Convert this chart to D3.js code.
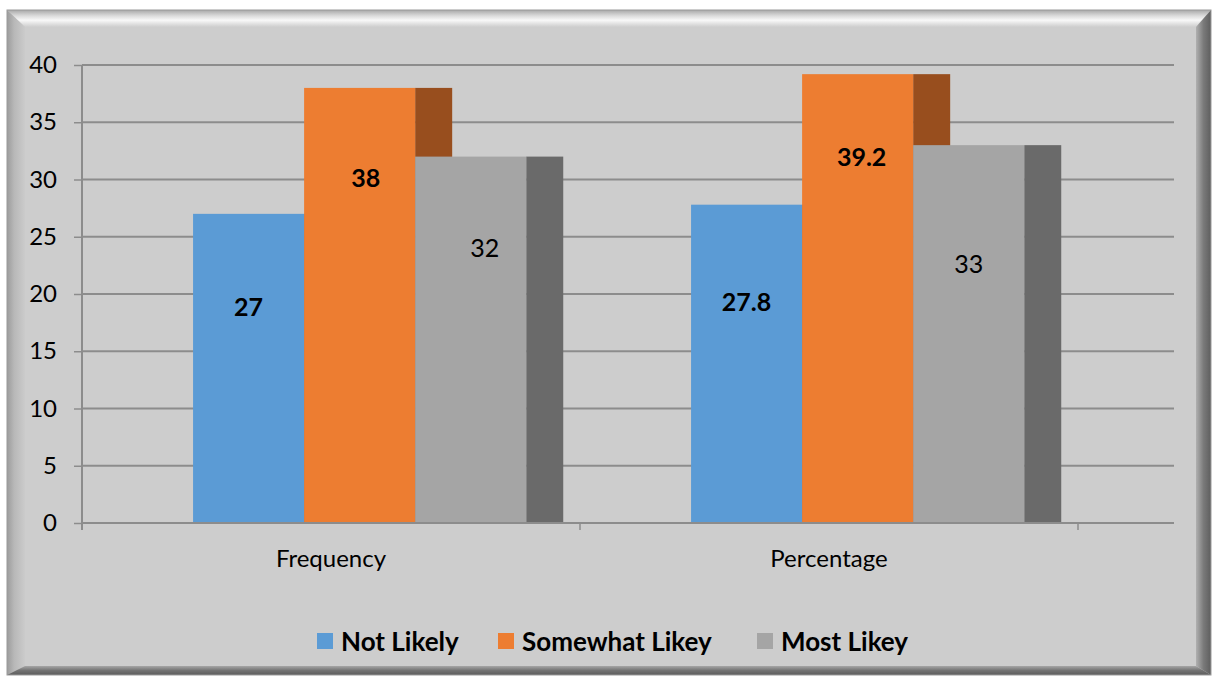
<!DOCTYPE html>
<html>
<head>
<meta charset="utf-8">
<script src="https://cdn.jsdelivr.net/npm/d3@7"></script>
<style>
  html, body { margin: 0; padding: 0; background: #ffffff; }
  svg { display: block; }
  text { font-family: Lato, "Open Sans", sans-serif; fill: #000; }
</style>
</head>
<body>
<svg id="chart" width="1216" height="677"></svg>
<script>
// Chart data
const categories = ["Frequency", "Percentage"];
const seriesNames = ["Not Likely", "Somewhat Likey", "Most Likey"];
const notLikely = [27, 27.8];
const somewhatLikely = [38, 39.2];
const mostLikely = [32, 33];
const yTicks = [0, 5, 10, 15, 20, 25, 30, 35, 40];

const seriesValues = [notLikely, somewhatLikely, mostLikely];
const frontColors = ["#5b9bd5", "#ed7d31", "#a5a5a5"];
const sideColors = ["#3f76a8", "#984e1e", "#6a6a6a"];
const labelBold = [true, true, false];
// label nudges in px relative to the top-centre of each bar face
const labelNudge = [
  [[0, 93], [0, 98]],
  [[6, 90], [4, 83]],
  [[14, 92], [0, 119]]
];

const svg = d3.select("#chart");
const defs = svg.append("defs");

// ---- bevelled frame ----
const fx0 = 7, fy0 = 10, fx1 = 1211, fy1 = 675;
const bl = 18, bt = 17, br = 15, bb = 9;

function grad(id, x1, y1, x2, y2, stops) {
  const g = defs.append("linearGradient").attr("id", id)
    .attr("x1", x1).attr("y1", y1).attr("x2", x2).attr("y2", y2);
  stops.forEach(s => g.append("stop").attr("offset", s[0]).attr("stop-color", s[1]));
}
grad("gTop", 0, 0, 0, 1, [[0, "#a8a8a8"], [0.35, "#dcdcdc"], [0.6, "#f8f8f8"], [1, "#cdcdcd"]]);
grad("gLeft", 0, 0, 1, 0, [[0, "#9c9c9c"], [0.4, "#b8b8b8"], [1, "#cbcbcb"]]);
grad("gRight", 0, 0, 1, 0, [[0, "#b0b0b0"], [0.5, "#7a7a7a"], [1, "#5e5e5e"]]);
grad("gBottom", 0, 0, 0, 1, [[0, "#a6a6a6"], [0.5, "#737373"], [1, "#5c5c5c"]]);

svg.append("rect").attr("x", fx0).attr("y", fy0)
  .attr("width", fx1 - fx0).attr("height", fy1 - fy0).attr("fill", "#cdcdcd");

const ix0 = fx0 + bl, iy0 = fy0 + bt, ix1 = fx1 - br, iy1 = fy1 - bb;
const poly = (pts, fill) => svg.append("polygon")
  .attr("points", pts.map(p => p.join(",")).join(" ")).attr("fill", fill);
poly([[fx0, fy0], [fx1, fy0], [ix1, iy0], [ix0, iy0]], "url(#gTop)");
poly([[fx0, fy0], [ix0, iy0], [ix0, iy1], [fx0, fy1]], "url(#gLeft)");
poly([[fx1, fy0], [fx1, fy1], [ix1, iy1], [ix1, iy0]], "url(#gRight)");
poly([[fx0, fy1], [ix0, iy1], [ix1, iy1], [fx1, fy1]], "url(#gBottom)");
svg.append("rect").attr("x", fx0).attr("y", fy0)
  .attr("width", fx1 - fx0).attr("height", fy1 - fy0)
  .attr("fill", "none").attr("stroke", "#9a9a9a").attr("stroke-width", 1);

// ---- scales ----
const plotLeft = 82, plotRight = 1174, axisRight = 1078;
const y = d3.scaleLinear().domain([0, 40]).range([523, 65]);
const x0 = d3.scaleBand().domain(categories).range([plotLeft, axisRight]).padding(0);
const bw = x0.bandwidth();
const x1 = d3.scaleBand().domain(seriesNames).range([bw * 0.223, bw * 0.892]).padding(0);
const depth = x1.bandwidth() / 3;

const gridColor = "#8c8c8c";

// gridlines
svg.append("g").selectAll("line").data(yTicks.filter(t => t > 0)).join("line")
  .attr("x1", plotLeft).attr("x2", plotRight)
  .attr("y1", d => y(d)).attr("y2", d => y(d))
  .attr("stroke", gridColor).attr("stroke-width", 2);

// y axis
const yAxis = svg.append("g").attr("transform", `translate(${plotLeft},0)`)
  .call(d3.axisLeft(y).tickValues(yTicks).tickSize(8).tickPadding(17));
yAxis.select(".domain").remove();
yAxis.selectAll(".tick line").attr("stroke", gridColor).attr("stroke-width", 1.5);
yAxis.selectAll(".tick text").style("font-size", "24px").style("font-family", "Lato, sans-serif")
  .attr("fill", "#000");
svg.append("line").attr("x1", plotLeft).attr("x2", plotLeft)
  .attr("y1", y(40)).attr("y2", y(0) + 7)
  .attr("stroke", gridColor).attr("stroke-width", 2);

// bars (side face first, then front, series in order so later fronts overlap earlier sides)
const barsG = svg.append("g");
seriesNames.forEach((s, si) => {
  categories.forEach((c, ci) => {
    const v = seriesValues[si][ci];
    const bx = x0(c) + x1(s);
    const w = x1.bandwidth();
    barsG.append("rect")
      .attr("x", bx + w).attr("y", y(v))
      .attr("width", depth).attr("height", y(0) - y(v))
      .attr("fill", sideColors[si]);
    barsG.append("rect")
      .attr("x", bx).attr("y", y(v))
      .attr("width", w).attr("height", y(0) - y(v))
      .attr("fill", frontColors[si]);
  });
});

// x axis line + ticks
svg.append("line").attr("x1", plotLeft).attr("x2", plotRight)
  .attr("y1", y(0)).attr("y2", y(0))
  .attr("stroke", gridColor).attr("stroke-width", 2);
const bounds = categories.map(c => x0(c)).concat([axisRight]);
svg.append("g").selectAll("line").data(bounds).join("line")
  .attr("x1", d => d).attr("x2", d => d)
  .attr("y1", y(0)).attr("y2", y(0) + 7)
  .attr("stroke", gridColor).attr("stroke-width", 1.5);

// category labels
svg.append("g").selectAll("text").data(categories).join("text")
  .attr("x", d => x0(d) + bw * 0.5)
  .attr("y", 567)
  .attr("text-anchor", "middle")
  .style("font-size", "24px")
  .text(d => d);

// value labels
const labG = svg.append("g");
seriesNames.forEach((s, si) => {
  categories.forEach((c, ci) => {
    const v = seriesValues[si][ci];
    const cx = x0(c) + x1(s) + x1.bandwidth() / 2;
    const nd = labelNudge[si][ci];
    labG.append("text")
      .attr("x", cx + nd[0])
      .attr("y", y(v) + nd[1])
      .attr("dy", "0.35em")
      .attr("text-anchor", "middle")
      .style("font-size", "25px")
      .style("font-weight", labelBold[si] ? "700" : "400")
      .text(v);
  });
});

// legend
const legendItems = [
  { name: seriesNames[0], color: frontColors[0], x: 317 },
  { name: seriesNames[1], color: frontColors[1], x: 498 },
  { name: seriesNames[2], color: frontColors[2], x: 757 }
];
const lg = svg.append("g");
legendItems.forEach(d => {
  lg.append("rect").attr("x", d.x).attr("y", 633).attr("width", 16).attr("height", 16)
    .attr("fill", d.color);
  lg.append("text").attr("x", d.x + 24).attr("y", 642).attr("dy", "0.35em")
    .style("font-size", "26px").style("font-weight", "700").text(d.name);
});
</script>
</body>
</html>
